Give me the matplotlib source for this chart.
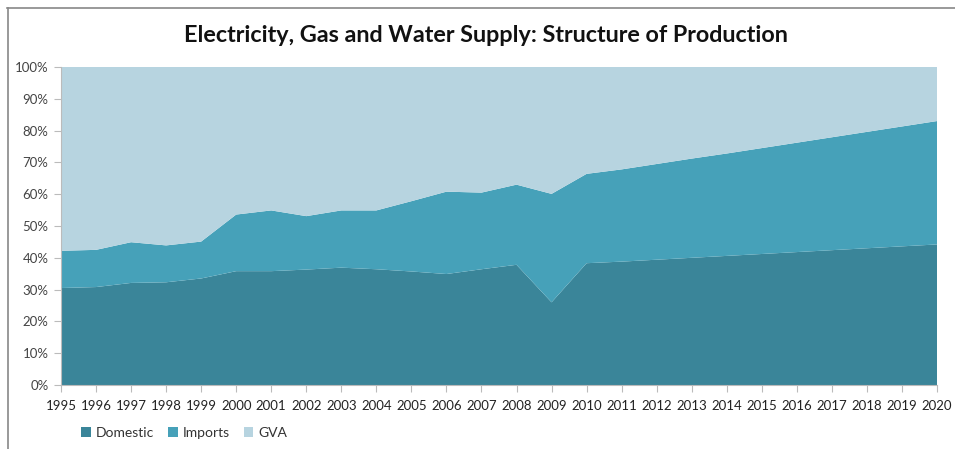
import numpy as np
import matplotlib
matplotlib.use("Agg")
import matplotlib.pyplot as plt
from matplotlib.lines import Line2D
from matplotlib.patches import Patch
from matplotlib.ticker import MultipleLocator, PercentFormatter

years = list(range(1995, 2021))

# shares of total output, percent
domestic = [30.5, 30.8, 32.1, 32.3, 33.5, 35.8, 35.8, 36.3, 36.9, 36.4,
            35.7, 34.9, 36.4, 37.8, 26.0, 38.3, 38.8, 39.4, 40.0, 40.6,
            41.2, 41.8, 42.4, 43.0, 43.6, 44.2]
imports = [11.7, 11.7, 12.8, 11.6, 11.6, 17.8, 19.1, 16.8, 18.0, 18.5,
           22.1, 25.9, 24.1, 25.2, 34.1, 28.1, 29.0, 30.1, 31.2, 32.2,
           33.3, 34.4, 35.5, 36.6, 37.7, 38.8]
gva = [57.8, 57.5, 55.1, 56.1, 54.9, 46.4, 45.1, 46.9, 45.1, 45.1,
       42.2, 39.2, 39.5, 37.0, 39.9, 33.6, 32.2, 30.5, 28.8, 27.2,
       25.5, 23.8, 22.1, 20.4, 18.7, 17.0]

labels = ["Domestic", "Imports", "GVA"]
colors = ["#3a8599", "#46a1b9", "#b7d4e0"]

plt.rcParams["font.family"] = ["Lato", "DejaVu Sans"]

fig = plt.figure(figsize=(9.55, 4.49), dpi=100)
ax = fig.add_axes([61 / 955, 1 - 385 / 449, 876 / 955, 318 / 449])

ax.stackplot(years, domestic, imports, gva, colors=colors, labels=labels,
             linewidth=0)

ax.set_xlim(1995, 2020)
ax.set_ylim(0, 100)
ax.set_xticks(years)
ax.set_xticklabels([str(y) for y in years], fontsize=9.5, color="#222222")
ax.yaxis.set_major_locator(MultipleLocator(10))
ax.yaxis.set_major_formatter(PercentFormatter(decimals=0))
ax.tick_params(axis="y", labelsize=9.5, labelcolor="#444444", length=5,
               color="#bbbbbb", direction="out", pad=4)
ax.tick_params(axis="x", length=5, color="#bbbbbb", direction="out", pad=6)

for side in ["top", "right"]:
    ax.spines[side].set_visible(False)
for side in ["left", "bottom"]:
    ax.spines[side].set_color("#bbbbbb")
    ax.spines[side].set_linewidth(0.8)

fig.text(0.509, 0.920, "Electricity, Gas and Water Supply: Structure of Production",
         ha="center", va="center", fontsize=16.8, fontweight="bold", color="#111111")

handles = [Patch(facecolor=c, edgecolor="none") for c in colors]
fig.legend(handles, labels, loc="center left", bbox_to_anchor=(0.072, 0.036),
           ncol=3, frameon=False, fontsize=10, handlelength=0.7,
           handleheight=0.7, handletextpad=0.35, columnspacing=1.0,
           labelcolor="#333333")

# outer chart frame
fig.add_artist(Line2D([7 / 955, 1], [1 - 7.5 / 449, 1 - 7.5 / 449],
                      transform=fig.transFigure, color="#888888", lw=1.2))
fig.add_artist(Line2D([7.5 / 955, 7.5 / 955], [0, 1 - 7.5 / 449],
                      transform=fig.transFigure, color="#888888", lw=1.2))

fig.savefig("out.png", dpi=100)
